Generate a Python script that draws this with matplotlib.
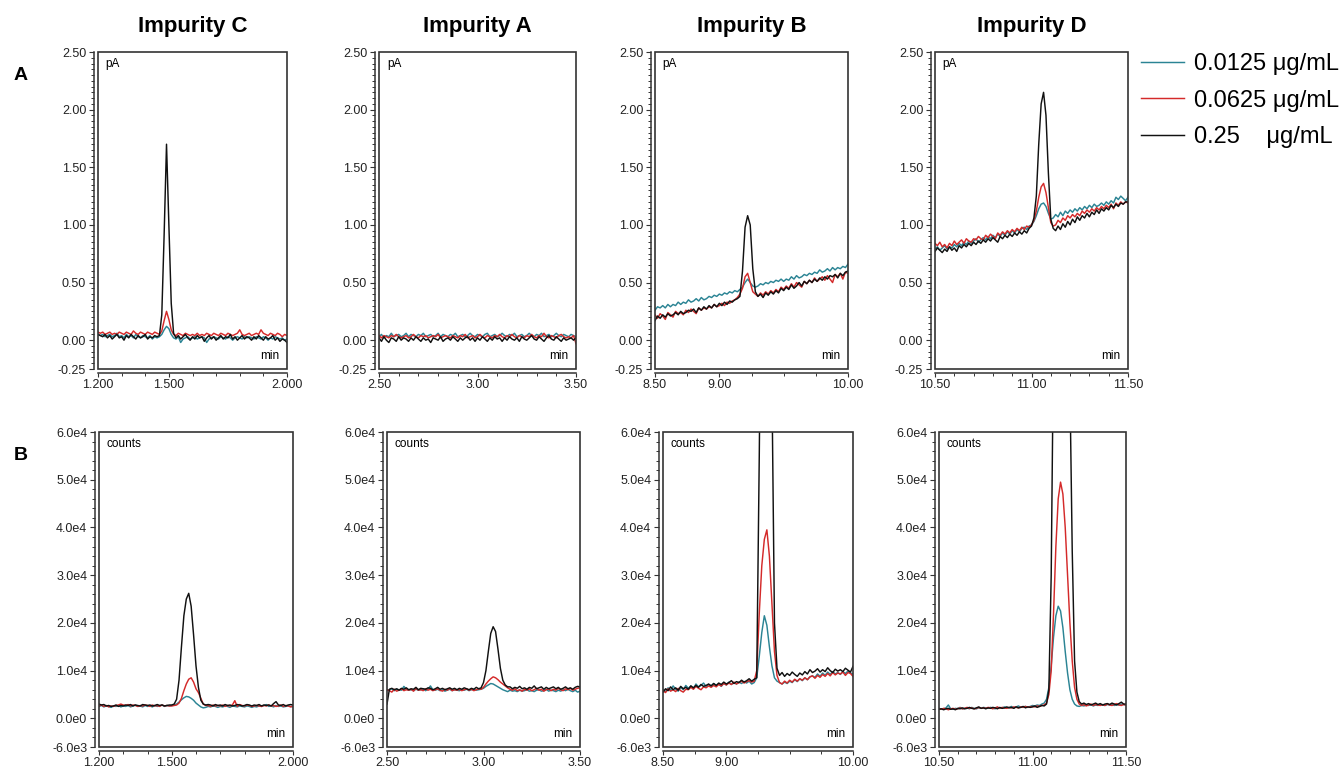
import matplotlib
matplotlib.use("Agg")
import matplotlib.pyplot as plt
import numpy as np
from matplotlib.patches import Rectangle
from matplotlib.ticker import MultipleLocator

plt.rcParams['font.family'] = ['Liberation Sans', 'DejaVu Sans']

# ---------------- data ----------------
titles = ['Impurity C', 'Impurity A', 'Impurity B', 'Impurity D']
conc_labels = ['0.0125 μg/mL', '0.0625 μg/mL', '0.25    μg/mL']
x_ranges = [(1.2, 2.0), (2.5, 3.5), (8.5, 10.0), (10.5, 11.5)]
x_major = [[1.2, 1.5, 2.0], [2.5, 3.0, 3.5], [8.5, 9.0, 10.0], [10.5, 11.0, 11.5]]
x_major_labels = [['1.200', '1.500', '2.000'], ['2.50', '3.00', '3.50'],
                  ['8.50', '9.00', '10.00'], ['10.50', '11.00', '11.50']]
x_minor = [[1.3, 1.4, 1.6, 1.7, 1.8, 1.9],
           [2.6, 2.7, 2.8, 2.9, 3.1, 3.2, 3.3, 3.4],
           [8.75, 9.25, 9.5, 9.75],
           [10.6, 10.7, 10.8, 10.9, 11.1, 11.2, 11.3, 11.4]]
yA_ticks = [-0.25, 0.0, 0.5, 1.0, 1.5, 2.0, 2.5]
yA_labels = ['-0.25', '0.00', '0.50', '1.00', '1.50', '2.00', '2.50']
yB_ticks = [-6000, 0, 10000, 20000, 30000, 40000, 50000, 60000]
yB_labels = ['-6.0e3', '0.0e0', '1.0e4', '2.0e4', '3.0e4', '4.0e4', '5.0e4', '6.0e4']

# Row A (FID, pA) -- evenly sampled over each x range
a_c_teal = [0.05, 0.04, 0.05, 0.03, 0.04, 0.05, 0.03, 0.04, 0.06, 0.03,
            0.04, 0.02, 0.05, 0.03, 0.04, 0.02, 0.05, 0.03, 0.02, 0.04,
            0.03, 0.02, 0.04, 0.01, 0.03, 0.02, 0.03, 0.05, 0.09, 0.12,
            0.10, 0.05, 0.02, 0.01, 0.03, -0.02, 0.01, 0.02, 0.03, 0.01,
            0.02, 0.03, 0.01, 0.02, 0.03, 0.02, -0.02, 0.01, 0.02, 0.03,
            0.02, 0.01, 0.03, 0.02, 0.01, 0.03, 0.02, 0.00, 0.02, 0.03,
            0.02, 0.01, 0.03, 0.02, 0.03, 0.02, 0.01, 0.03, 0.02, 0.01,
            0.03, 0.02, 0.00, 0.02, 0.01, 0.03, 0.02, 0.01, 0.02, 0.00,
            0.01]
a_c_red = [0.07, 0.06, 0.07, 0.05, 0.06, 0.07, 0.05, 0.06, 0.05, 0.07,
           0.06, 0.05, 0.07, 0.06, 0.05, 0.08, 0.06, 0.05, 0.07, 0.06,
           0.05, 0.07, 0.06, 0.05, 0.07, 0.06, 0.05, 0.08, 0.17, 0.25,
           0.18, 0.09, 0.05, 0.04, 0.06, 0.05, 0.04, 0.06, 0.05, 0.04,
           0.05, 0.04, 0.06, 0.04, 0.05, 0.04, 0.06, 0.05, 0.04, 0.06,
           0.05, 0.04, 0.06, 0.05, 0.04, 0.06, 0.05, 0.04, 0.05, 0.06,
           0.09, 0.05, 0.04, 0.05, 0.06, 0.04, 0.05, 0.06, 0.05, 0.09,
           0.06, 0.05, 0.04, 0.06, 0.05, 0.04, 0.06, 0.05, 0.03, 0.05,
           0.04]
a_c_black = [0.05, 0.04, 0.03, 0.05, 0.02, 0.04, 0.01, 0.03, 0.05, 0.02,
             0.03, 0.00, 0.04, 0.02, 0.05, 0.03, 0.01, 0.04, 0.02, 0.03,
             0.05, 0.01, 0.03, 0.02, 0.04, 0.03, 0.04, 0.22, 0.92, 1.70,
             1.00, 0.32, 0.06, 0.02, 0.04, 0.01, 0.03, 0.05, 0.02, 0.00,
             0.03, 0.01, 0.04, 0.02, 0.03, -0.01, 0.02, 0.04, 0.01, 0.03,
             0.00, 0.02, 0.04, 0.01, 0.03, 0.02, 0.05, 0.01, 0.03, 0.00,
             0.02, 0.04, 0.01, 0.03, 0.02, 0.00, 0.03, 0.01, 0.04, 0.02,
             0.00, 0.03, 0.01, 0.02, 0.04, 0.00, 0.02, -0.01, 0.01, 0.00,
             -0.02]

a_a_teal = [0.03, 0.05, 0.02, 0.04, 0.03, 0.06, 0.03, 0.04, 0.05, 0.03,
            0.04, 0.06, 0.03, 0.05, 0.04, 0.03, 0.05, 0.04, 0.06, 0.03,
            0.04, 0.05, 0.03, 0.04, 0.06, 0.03, 0.05, 0.04, 0.03, 0.05,
            0.04, 0.06, 0.03, 0.04, 0.05, 0.03, 0.04, 0.06, 0.04, 0.03,
            0.05, 0.04, 0.03, 0.05, 0.06, 0.03, 0.04, 0.05, 0.03, 0.04,
            0.06, 0.04, 0.03, 0.05, 0.04, 0.06, 0.03, 0.04, 0.05, 0.03,
            0.04, 0.06, 0.04, 0.03, 0.05, 0.04, 0.06, 0.03, 0.04, 0.05,
            0.03, 0.04, 0.06, 0.04, 0.03, 0.05, 0.04, 0.03, 0.05, 0.04,
            0.03]
a_a_red = [0.04, 0.02, 0.04, 0.03, 0.02, 0.04, 0.03, 0.05, 0.03, 0.02,
           0.03, 0.04, 0.02, 0.03, 0.05, 0.03, 0.02, 0.04, 0.03, 0.04,
           0.02, 0.03, 0.04, 0.03, 0.05, 0.02, 0.03, 0.04, 0.03, 0.02,
           0.04, 0.03, 0.02, 0.04, 0.03, 0.05, 0.02, 0.03, 0.04, 0.02,
           0.03, 0.05, 0.03, 0.02, 0.04, 0.03, 0.02, 0.04, 0.03, 0.05,
           0.03, 0.02, 0.04, 0.03, 0.05, 0.03, 0.02, 0.04, 0.03, 0.02,
           0.04, 0.03, 0.05, 0.03, 0.02, 0.04, 0.03, 0.06, 0.03, 0.02,
           0.04, 0.03, 0.02, 0.04, 0.05, 0.03, 0.02, 0.03, 0.02, 0.04,
           -0.03]
a_a_black = [0.02, -0.01, 0.03, 0.00, -0.02, 0.02, 0.01, -0.01, 0.03, 0.00,
             0.02, 0.01, -0.01, 0.02, 0.00, 0.03, 0.01, -0.01, 0.02, 0.00,
             0.01, -0.02, 0.02, 0.01, 0.00, 0.03, -0.01, 0.01, 0.02, 0.00,
             0.03, 0.01, -0.01, 0.02, 0.00, 0.02, 0.03, 0.00, 0.02, -0.01,
             0.02, 0.00, 0.03, 0.01, -0.01, 0.02, 0.00, 0.03, 0.01, 0.02,
             -0.01, 0.02, 0.00, 0.03, 0.01, 0.00, 0.02, -0.01, 0.03, 0.01,
             0.00, 0.02, 0.04, 0.01, 0.00, 0.03, 0.01, -0.01, 0.02, 0.04,
             0.01, 0.00, 0.03, 0.01, -0.01, 0.02, 0.00, 0.01, 0.02, 0.00,
             0.02]

a_b_teal = [0.26, 0.29, 0.28, 0.30, 0.28, 0.31, 0.29, 0.31, 0.30, 0.33,
            0.31, 0.33, 0.32, 0.35, 0.33, 0.34, 0.36, 0.34, 0.37, 0.35,
            0.36, 0.38, 0.37, 0.39, 0.38, 0.40, 0.39, 0.41, 0.40, 0.42,
            0.41, 0.43, 0.42, 0.44, 0.46, 0.50, 0.53, 0.50, 0.47, 0.46,
            0.47, 0.49, 0.48, 0.50, 0.49, 0.51, 0.50, 0.52, 0.51, 0.53,
            0.51, 0.53, 0.52, 0.55, 0.53, 0.56, 0.54, 0.55, 0.57, 0.56,
            0.58, 0.57, 0.59, 0.58, 0.61, 0.59, 0.60, 0.62, 0.60, 0.63,
            0.61, 0.63, 0.62, 0.64, 0.63, 0.66]
a_b_red = [0.22, 0.19, 0.23, 0.21, 0.18, 0.24, 0.22, 0.20, 0.25, 0.23,
           0.24, 0.22, 0.26, 0.24, 0.27, 0.25, 0.23, 0.28, 0.26, 0.28,
           0.27, 0.29, 0.28, 0.31, 0.29, 0.30, 0.32, 0.30, 0.33, 0.32,
           0.34, 0.35, 0.37, 0.40, 0.45, 0.55, 0.58, 0.50, 0.42, 0.40,
           0.38, 0.41, 0.39, 0.42, 0.40, 0.43, 0.41, 0.44, 0.42, 0.46,
           0.44, 0.47, 0.45, 0.49, 0.46, 0.50, 0.48, 0.46, 0.51, 0.49,
           0.52, 0.50, 0.54, 0.51, 0.53, 0.55, 0.52, 0.56, 0.53, 0.50,
           0.57, 0.55, 0.58, 0.53, 0.59, 0.58]
a_b_black = [0.17, 0.21, 0.19, 0.22, 0.20, 0.23, 0.21, 0.22, 0.24, 0.22,
             0.25, 0.23, 0.24, 0.26, 0.25, 0.27, 0.24, 0.28, 0.26, 0.29,
             0.27, 0.30, 0.28, 0.31, 0.29, 0.32, 0.30, 0.33, 0.31, 0.34,
             0.33, 0.35, 0.36, 0.38, 0.60, 0.98, 1.08, 1.00, 0.62, 0.42,
             0.38, 0.40, 0.37, 0.41, 0.39, 0.42, 0.40, 0.43, 0.41, 0.45,
             0.43, 0.46, 0.44, 0.48, 0.45, 0.47, 0.50, 0.47, 0.51, 0.49,
             0.52, 0.50, 0.53, 0.51, 0.54, 0.52, 0.55, 0.53, 0.56, 0.55,
             0.57, 0.54, 0.58, 0.56, 0.59, 0.60]

a_d_teal = [0.79, 0.81, 0.78, 0.80, 0.82, 0.79, 0.81, 0.80, 0.83, 0.81,
            0.84, 0.82, 0.85, 0.83, 0.86, 0.84, 0.86, 0.88, 0.85, 0.87,
            0.89, 0.87, 0.90, 0.88, 0.91, 0.89, 0.92, 0.90, 0.93, 0.91,
            0.94, 0.92, 0.95, 0.93, 0.96, 0.94, 0.97, 0.98, 0.96, 0.99,
            1.00, 1.03, 1.08, 1.14, 1.18, 1.19, 1.16, 1.10, 1.05, 1.06,
            1.09, 1.07, 1.11, 1.08, 1.12, 1.10, 1.13, 1.11, 1.14, 1.12,
            1.15, 1.13, 1.16, 1.14, 1.17, 1.15, 1.18, 1.16, 1.17, 1.19,
            1.17, 1.20, 1.18, 1.21, 1.19, 1.24, 1.22, 1.25, 1.23, 1.21,
            1.24]
a_d_red = [0.84, 0.82, 0.85, 0.81, 0.83, 0.80, 0.84, 0.82, 0.86, 0.83,
           0.85, 0.87, 0.84, 0.88, 0.86, 0.85, 0.88, 0.87, 0.90, 0.88,
           0.87, 0.91, 0.89, 0.92, 0.90, 0.88, 0.93, 0.91, 0.94, 0.92,
           0.95, 0.93, 0.96, 0.94, 0.97, 0.95, 0.98, 0.96, 0.99, 0.98,
           1.00, 1.04, 1.12, 1.24, 1.33, 1.36, 1.28, 1.15, 1.02, 0.99,
           1.00, 1.04, 1.02, 1.06, 1.04, 1.08, 1.06, 1.09, 1.07, 1.10,
           1.08, 1.12, 1.10, 1.13, 1.11, 1.14, 1.12, 1.15, 1.13, 1.16,
           1.14, 1.17, 1.15, 1.18, 1.14, 1.19, 1.17, 1.20, 1.18, 1.20,
           1.19]
a_d_black = [0.77, 0.80, 0.78, 0.76, 0.79, 0.77, 0.81, 0.78, 0.80, 0.77,
             0.82, 0.80, 0.83, 0.81, 0.84, 0.82, 0.85, 0.83, 0.86, 0.84,
             0.87, 0.85, 0.88, 0.86, 0.89, 0.87, 0.85, 0.90, 0.88, 0.91,
             0.89, 0.92, 0.90, 0.93, 0.91, 0.94, 0.92, 0.95, 0.93, 0.97,
             0.99, 1.06, 1.25, 1.70, 2.05, 2.15, 1.95, 1.45, 1.05, 0.97,
             0.95, 0.99, 0.96, 1.01, 0.98, 1.03, 1.00, 1.05, 1.02, 1.07,
             1.04, 1.08, 1.06, 1.10, 1.07, 1.11, 1.09, 1.13, 1.10, 1.14,
             1.12, 1.15, 1.13, 1.17, 1.15, 1.18, 1.16, 1.19, 1.18, 1.20,
             1.20]

# Row B (MS, counts)
b_c_teal = [2500, 2700, 2400, 2600, 2500, 2300, 2600, 2500, 2700, 2400,
            2600, 2500, 2700, 2400, 2600, 2800, 2500, 2600, 2400, 2700,
            2500, 2600, 2400, 2700, 2500, 2600, 2800, 2500, 2700, 2600,
            2700, 2800, 3000, 3400, 3900, 4300, 4600, 4500, 4200, 3800,
            3200, 2800, 2400, 2200, 2300, 2500, 2400, 2600, 2500, 2300,
            2500, 2400, 2600, 2500, 2300, 2600, 2500, 2400, 2600, 2500,
            2400, 2600, 2500, 2300, 2500, 2400, 2600, 2500, 2700, 2900,
            2500, 2600, 2400, 2700, 2500, 2600, 2400, 2500, 2600, 2500,
            2400]
b_c_red = [2600, 2800, 2500, 2700, 2400, 2600, 2500, 2700, 2800, 3000,
           2800, 2700, 2900, 2600, 2800, 2700, 2500, 2700, 2600, 2800,
           2700, 2500, 2800, 2600, 2700, 2500, 2800, 2600, 2700, 2600,
           2600, 2700, 2800, 3200, 4200, 5800, 7200, 8200, 8500, 7600,
           6200, 5400, 4200, 3000, 2700, 2700, 2500, 2800, 2600, 2700,
           2600, 2800, 2500, 2700, 2600, 2800, 3700, 2500, 2900, 2700,
           2600, 2800, 2700, 2500, 2600, 2700, 2600, 2500, 2700, 2600,
           2800, 2600, 2700, 2500, 2600, 2800, 2500, 2700, 2600, 2400,
           2600]
b_c_black = [3000, 2800, 2900, 2600, 2700, 2500, 2600, 2800, 2500, 2700,
             2600, 2800, 2700, 2900, 2600, 2800, 2700, 2600, 2900, 2800,
             2700, 2800, 2600, 2700, 2900, 2700, 2800, 2600, 2700, 2800,
             2800, 3000, 4000, 8000, 15000, 21500, 25000, 26200, 23500, 17500,
             11000, 6500, 3800, 3000, 2800, 2900, 2800, 2600, 2900, 2700,
             2800, 2600, 2900, 2700, 2800, 2600, 2700, 2900, 2800, 2600,
             2700, 2900, 2800, 2600, 2800, 2700, 2900, 2600, 2800, 2700,
             2800, 2600, 3100, 3500, 2800, 2700, 2900, 2600, 2800, 2900,
             2800]

b_a_teal = [5900, 6000, 6200, 5800, 6100, 6000, 5900, 6700, 6100, 5900,
            6000, 5800, 6100, 5900, 6000, 6200, 5800, 6100, 6800, 6000,
            5900, 6100, 5800, 6000, 5700, 5900, 6100, 5800, 6000, 5900,
            5800, 6000, 5900, 6100, 5800, 6000, 6100, 5900, 6000, 6100,
            6300, 6700, 7000, 7300, 7200, 6900, 6600, 6300, 6000, 5800,
            5600, 5900, 5700, 5800, 5600, 5900, 5700, 5800, 6000, 5700,
            5800, 5600, 5900, 6000, 5700, 5800, 6100, 5700, 5900, 5800,
            5600, 5900, 5700, 6000, 5800, 6100, 5800, 5600, 5900, 5500,
            5700]
b_a_red = [6000, 5800, 5500, 6100, 5700, 5900, 6200, 5800, 6000, 5900,
           6100, 5700, 6300, 5900, 6000, 5800, 6200, 5900, 6100, 5800,
           6000, 6200, 5900, 5700, 6100, 5900, 6300, 5800, 6000, 5900,
           6100, 5800, 6000, 6200, 5900, 6100, 5800, 6000, 6200, 6100,
           6500, 7200, 7800, 8300, 8700, 8500, 8100, 7600, 7200, 6800,
           6400, 6100, 5900, 6200, 5800, 6000, 5700, 6100, 5900, 6200,
           5800, 6000, 6300, 5900, 6100, 5700, 6000, 6200, 5800, 6100,
           5900, 6300, 6000, 5800, 6200, 6000, 6300, 5900, 6100, 6300,
           6400]
b_a_black = [3000, 6100, 6300, 6000, 6200, 5900, 6300, 6100, 6400, 6000,
             6200, 6100, 6500, 6000, 6300, 6200, 6100, 6400, 6300, 6000,
             6200, 6500, 6100, 6300, 6000, 6200, 6400, 6100, 6300, 6000,
             6300, 6100, 6400, 6200, 6000, 6300, 6100, 6500, 6200, 6400,
             7500, 10000, 14000, 17800, 19200, 18200, 14500, 10500, 8000, 7000,
             6600, 6600, 6200, 6500, 6300, 6700, 6200, 6400, 6100, 6500,
             6300, 6800, 6200, 6400, 6600, 6100, 6500, 6200, 6400, 6600,
             6200, 6500, 6100, 6300, 6600, 6200, 6400, 6100, 6500, 6700,
             6600]

b_b_teal = [6000, 5600, 6400, 5900, 6800, 6100, 5700, 6500, 6000, 6900,
            6300, 6800, 6200, 7200, 6600, 6900, 7400, 6700, 7100, 6800,
            7300, 6900, 7200, 6700, 7400, 7000, 7600, 7100, 7500, 7200,
            7600, 7300, 7700, 7400, 7800, 7200, 7500, 8500, 13000, 18000,
            21500, 19500, 15000, 11000, 8500, 7800, 7500, 7200, 7600, 7300,
            7800, 7500, 8100, 7700, 8300, 7900, 8500, 8100, 8700, 8900,
            8600, 9300, 8800, 9500, 9000, 9700, 9200, 9800, 9300, 9600,
            9200, 9800, 9400, 9900, 9500, 9300]
b_b_red = [5800, 5400, 6200, 5700, 6000, 5600, 6300, 5800, 5500, 6100,
           6000, 6500, 6100, 6700, 6300, 6000, 6600, 6400, 6800, 6500,
           6900, 6600, 7100, 6800, 7300, 7000, 7400, 7100, 7600, 7200,
           7500, 7800, 7400, 7700, 7900, 7600, 7800, 10000, 22000, 32000,
           37500, 39500, 34000, 24000, 14000, 9000, 7500, 7200, 7800, 7400,
           8000, 7600, 8200, 7800, 8300, 8000, 8500, 8100, 8700, 8900,
           8400, 9000, 8600, 9200, 8800, 9400, 8900, 9600, 9100, 9500,
           9300, 9700, 9000, 9600, 9400, 8800]
b_b_black = [5500, 6200, 5800, 6600, 6000, 6400, 5900, 6700, 6200, 6500,
             6100, 6800, 6400, 6900, 6500, 7100, 6700, 6900, 7200, 6800,
             7300, 6900, 7400, 7100, 7600, 7200, 7500, 7900, 7300, 7700,
             7500, 8000, 7600, 7900, 8300, 7800, 8200, 8500, 55000, 110000,
             140000, 135000, 110000, 70000, 20000, 10500, 9000, 9600, 8800, 9400,
             9000, 9700, 9200, 8800, 9500, 9100, 9800, 9300, 10200, 9600,
             9900, 10400, 9700, 10200, 9800, 10600, 10000, 9600, 10300, 9900,
             10200, 9800, 10500, 10100, 9700, 10900]

b_d_teal = [2100, 1900, 2000, 2200, 2800, 2000, 1900, 2100, 2000, 2300,
            2000, 2100, 2200, 2000, 2300, 2100, 2000, 2200, 2100, 2300,
            2200, 2100, 2300, 2200, 2000, 2300, 2100, 2200, 2400, 2200,
            2300, 2500, 2200, 2400, 2600, 2300, 2400, 2500, 2300, 2500,
            2700, 2600, 2800, 2700, 3000, 3200, 4000, 6500, 11000, 17000,
            21500, 23500, 22500, 19000, 14000, 9500, 6000, 4000, 3000, 2600,
            2500, 2700, 2600, 2800, 2700, 2900, 2600, 2800, 2700, 2900,
            2800, 2700, 2900, 2800, 3000, 2700, 2900, 2800, 3000, 2900,
            2800]
b_d_red = [2000, 1900, 2100, 2000, 1800, 2000, 2100, 1900, 2000, 2200,
           2000, 2100, 2300, 2100, 2200, 2000, 2100, 2300, 2100, 2200,
           2100, 2300, 2200, 2000, 2200, 2400, 2100, 2300, 2200, 2100,
           2300, 2200, 2400, 2300, 2200, 2400, 2300, 2500, 2300, 2400,
           2500, 2400, 2600, 2500, 2700, 2800, 3200, 5000, 10000, 22000,
           36000, 46000, 49500, 47000, 40000, 30000, 20000, 12000, 6500, 4000,
           3000, 2700, 2900, 2600, 2800, 3000, 2700, 2900, 2800, 2700,
           2900, 2700, 3000, 2800, 2700, 2900, 3100, 2800, 2700, 2900,
           2800]
b_d_black = [1900, 2000, 1800, 2000, 2100, 1900, 2000, 1800, 2100, 2000,
             2200, 2000, 2100, 2300, 2100, 2000, 2200, 2400, 2100, 2200,
             2000, 2200, 2100, 2300, 2200, 2000, 2300, 2100, 2200, 2400,
             2200, 2300, 2100, 2400, 2200, 2300, 2500, 2200, 2400, 2300,
             2400, 2600, 2300, 2500, 2700, 2600, 3000, 6000, 30000, 80000,
             120000, 150000, 160000, 150000, 125000, 100000, 70000, 35000, 12000, 5500,
             3500, 3000, 3200, 2900, 3100, 2800, 3000, 3200, 2900, 3100,
             2800, 3000, 3100, 2900, 3200, 3000, 2800, 3100, 3400, 3000,
             3000]

row_a = [[a_c_teal, a_c_red, a_c_black], [a_a_teal, a_a_red, a_a_black],
         [a_b_teal, a_b_red, a_b_black], [a_d_teal, a_d_red, a_d_black]]
row_b = [[b_c_teal, b_c_red, b_c_black], [b_a_teal, b_a_red, b_a_black],
         [b_b_teal, b_b_red, b_b_black], [b_d_teal, b_d_red, b_d_black]]

# ---------------- layout (pixels in a 1342x771 canvas) ----------------
W, H = 1342, 771
boxes_a = [(98, 287), (379, 576), (655, 848), (935, 1128)]
boxes_b = [(99, 293), (387, 580), (663, 853), (939, 1126)]
row_a_tb = (52, 369)
row_b_tb = (432, 747)
trace_colors = ['#2b8494', '#d42a2a', '#111111']


def make_axes(fig, lr, tb):
    l, r = lr
    t, b = tb
    return fig.add_axes([l / W, 1 - b / H, (r - l) / W, (b - t) / H])


def style_panel(ax, col, yticks, ylabels, yminor, unit):
    ax.set_xlim(x_ranges[col])
    ax.set_ylim(yticks[0], yticks[-1])
    ax.set_xticks(x_major[col])
    ax.set_xticklabels(x_major_labels[col])
    ax.set_xticks(x_minor[col], minor=True)
    ax.set_yticks(yticks)
    ax.set_yticklabels(ylabels)
    ax.yaxis.set_minor_locator(MultipleLocator(yminor))
    ax.spines['top'].set_visible(False)
    ax.spines['right'].set_visible(False)
    ax.spines['left'].set_position(('outward', 3))
    ax.spines['bottom'].set_position(('outward', 3))
    for s in ['left', 'bottom']:
        ax.spines[s].set_linewidth(1.1)
        ax.spines[s].set_color('#333333')
    ax.tick_params(which='major', direction='out', length=3.5, width=0.8,
                   labelsize=9, pad=2, colors='#333333', labelcolor='#222222')
    ax.tick_params(axis='x', which='major', length=3, pad=1)
    ax.tick_params(which='minor', direction='out', length=2, width=0.7, colors='#333333')
    ax.add_patch(Rectangle((0, 0), 1, 1, transform=ax.transAxes, fill=False,
                           lw=1.2, ec='#333333', clip_on=False, zorder=5))
    ax.text(0.04, 0.982, unit, transform=ax.transAxes, ha='left', va='top', fontsize=8.5)
    ax.text(0.96, 0.022, 'min', transform=ax.transAxes, ha='right', va='bottom', fontsize=8.5)


def main():
    fig = plt.figure(figsize=(W / 100, H / 100), dpi=100)

    handles = []
    for col in range(4):
        ax = make_axes(fig, boxes_a[col], row_a_tb)
        x0, x1 = x_ranges[col]
        for trace, c in zip(row_a[col], trace_colors):
            x = np.linspace(x0, x1, len(trace))
            line, = ax.plot(x, trace, color=c, lw=1.05)
            if col == 0:
                handles.append(line)
        style_panel(ax, col, yA_ticks, yA_labels, 0.05, 'pA')

        ax = make_axes(fig, boxes_b[col], row_b_tb)
        for trace, c in zip(row_b[col], trace_colors):
            x = np.linspace(x0, x1, len(trace))
            ax.plot(x, trace, color=c, lw=1.05)
        style_panel(ax, col, yB_ticks, yB_labels, 2000, 'counts')

        cx = (boxes_a[col][0] + boxes_a[col][1]) / 2
        fig.text(cx / W, 1 - 32 / H, titles[col], ha='center', va='baseline',
                 fontsize=16, fontweight='bold')

    fig.text(20.5 / W, 1 - 75 / H, 'A', ha='center', va='center', fontsize=14, fontweight='bold')
    fig.text(20.5 / W, 1 - 455 / H, 'B', ha='center', va='center', fontsize=14, fontweight='bold')

    fig.legend(handles, conc_labels, loc='upper left', bbox_to_anchor=(1141 / W, 1 - 53 / H),
               frameon=False, fontsize=17, handlelength=1.8, handletextpad=0.45,
               labelspacing=0.62, borderpad=0, borderaxespad=0)

    fig.savefig('out.png', dpi=100)


if __name__ == "__main__":
    main()
